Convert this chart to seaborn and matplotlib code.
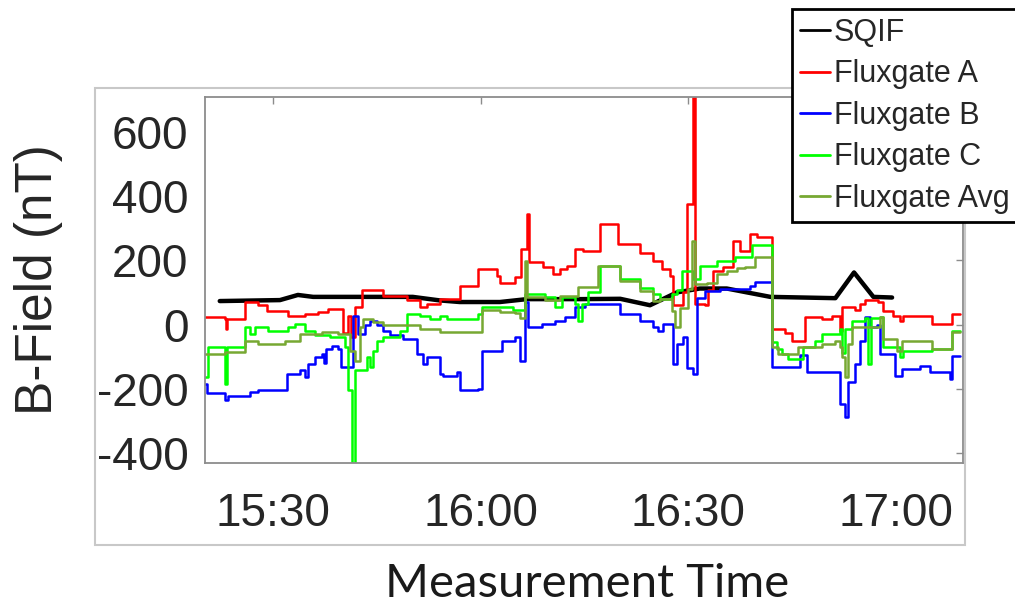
import matplotlib
matplotlib.use("Agg")
import matplotlib.pyplot as plt
import seaborn as sns
import pandas as pd
from matplotlib.ticker import FixedLocator, FuncFormatter
from matplotlib.patches import Rectangle

# ---------------- data (time in minutes after 15:00, field in nT) ----------------
t_sqif = [22.3, 31.0, 33.6, 35.8, 50.2, 54.1, 57.0, 62.8, 66.7, 74.4, 80.2, 84.5,
          88.4, 91.7, 95.6, 101.9, 111.3, 114.0, 116.8, 119.5]
v_sqif = [73, 76, 92, 86, 86, 75, 70, 70, 79, 79, 80, 60,
          100, 112, 112, 86, 82, 162, 86, 84]

t_a = [20.17, 23.06, 23.20, 23.35, 25.95, 27.83, 29.13, 32.17, 34.63, 36.51, 37.95, 40.12,
       40.84, 41.28, 41.86, 42.87, 45.90, 49.37, 51.25, 52.27, 54.14, 57.04, 59.64, 62.39,
       62.82, 64.99, 65.86, 66.72, 67.00, 69.04, 70.48, 71.49, 72.51, 73.66, 74.82, 77.28,
       79.88, 83.06, 84.94, 86.24, 87.40, 87.83, 89.28, 89.86, 90.70, 90.95, 92.46, 92.89,
       93.62, 95.06, 96.51, 97.52, 98.96, 99.98, 102.14, 104.02, 105.04, 106.92, 109.37,
       110.82, 111.98, 112.27, 114.14, 114.87, 115.59, 117.47, 118.19, 119.64, 120.65,
       121.09, 125.28, 128.17, 129.32]
v_a = [23, 18, -13, 18, 69, 62, 43, 28, 33, 38, 48, -25,
       25, -39, 54, 106, 88, 75, 54, 64, 80, 121, 173, 152,
       128, 147, 235, 344, 194, 178, 158, 173, 183, 235, 230, 313,
       250, 224, 198, 172, 150, 60, 100, 374, 760, 64, 60, 106,
       168, 178, 261, 230, 282, 272, -13, -25, -50, 23, 18,
       25, -20, 54, 44, 64, 75, 70, 43, 28, 12,
       28, 2, 33, 33]

t_b = [20.17, 20.46, 23.06, 23.49, 26.67, 27.83, 32.02, 33.90, 34.63, 35.06, 36.07, 37.08,
       37.37, 37.66, 38.53, 39.40, 39.83, 41.57, 42.29, 43.30, 44.02, 45.04, 45.90, 46.92,
       48.80, 50.82, 51.69, 52.27, 54.14, 54.58, 56.60, 57.04, 59.64, 60.22, 63.11, 64.99,
       65.71, 66.43, 66.87, 68.89, 70.77, 72.22, 73.66, 75.11, 77.28, 80.17, 83.06, 84.94,
       85.66, 86.39, 87.83, 88.41, 89.28, 89.86, 90.72, 91.30, 92.46, 94.63, 98.96, 99.69,
       102.14, 106.19, 107.21, 111.98, 112.70, 113.14, 114.14, 114.87, 115.59, 116.31,
       117.33, 117.76, 119.93, 120.94, 123.54, 124.99, 127.88, 128.17, 129.32]
v_b = [-184, -212, -235, -221, -211, -205, -153, -143, -164, -123, -102, -92,
       -120, -76, -66, -75, -133, 28, -29, -3, 12, -3, -19, -34,
       -45, -91, -122, -102, -153, -159, -148, -205, -200, -81, -50, -40,
       -112, 69, -8, 2, 12, 23, 54, 64, 64, 33, 12, -8,
       -19, 2, -123, -60, -40, -134, -155, 84, 105, 110, 120, 132,
       -133, -96, -148, -247, -288, -179, -122, -50, 23, -8,
       0, -91, -159, -138, -128, -148, -169, -97, -97]

t_c = [20.17, 20.60, 23.06, 23.35, 25.95, 26.67, 27.40, 29.28, 32.17, 33.18, 34.63, 36.07,
       38.24, 40.41, 40.84, 41.42, 41.86, 43.59, 44.02, 44.46, 45.04, 45.90, 48.36, 49.37,
       51.25, 52.70, 54.14, 55.16, 58.92, 59.64, 60.22, 64.70, 66.43, 69.33, 70.77, 71.78,
       73.66, 74.10, 74.68, 75.54, 77.28, 80.17, 83.06, 84.94, 85.95, 87.69, 88.41, 89.13,
       90.72, 91.74, 94.19, 96.80, 99.25, 102.14, 102.87, 103.59, 104.46, 106.63, 108.36,
       109.37, 111.98, 112.27, 112.70, 113.72, 115.59, 116.02, 116.45, 117.76, 118.19,
       120.65, 121.09, 125.28, 128.17, 129.32]
v_c = [-164, -71, -185, -71, -8, -30, -8, -19, -8, 2, -19, -34,
       -40, -70, -205, -440, -143, -102, -133, -81, -50, -39, -19, 33,
       28, 18, 28, 18, 18, 33, 54, 44, 95, 85, 54, 85,
       64, 12, 64, 100, 183, 141, 115, 94, 79, 94, 106, 167,
       141, 182, 198, 209, 246, -55, -76, -91, -107, -70, -50,
       -29, -13, -90, -13, 12, 20, -122, 20, 23, -71,
       -102, -81, -76, -19, -19]

t_avg = [20.17, 23.06, 25.95, 27.83, 31.73, 33.90, 37.08, 39.40, 41.13, 41.86, 42.58, 43.01,
         44.46, 45.90, 51.25, 54.14, 60.22, 62.82, 64.99, 65.71, 66.43, 66.72, 69.33, 71.49,
         74.10, 76.99, 80.17, 83.06, 84.94, 85.95, 87.69, 88.12, 88.84, 90.00, 90.58, 91.01,
         92.75, 94.19, 95.64, 97.09, 98.24, 99.69, 102.14, 103.01, 105.90, 109.37, 111.25,
         111.98, 112.27, 112.70, 113.14, 113.72, 116.60, 117.76, 118.19, 120.22, 120.94,
         125.28, 128.17, 129.32]
v_avg = [-92, -85, -50, -60, -50, -29, -24, -29, -81, -112, -8, 18,
         7, -3, -13, -24, 45, 40, 35, 20, 199, 85, 75, 90,
         116, 183, 136, 105, 74, 80, 43, -9, 50, 110, 260, 126,
         130, 156, 165, 176, 178, 209, -70, -91, -70, -60, -50,
         -70, -102, -164, -60, -8, -8, 23, -45, -81, -50,
         -76, -24, -24]

x_ticks = [30, 60, 90, 120]
x_tick_labels = ["15:30", "16:00", "16:30", "17:00"]
y_ticks = [-400, -200, 0, 200, 400, 600]

# ---------------- style ----------------
sns.set_style("white")
plt.rcParams["font.family"] = ["Liberation Sans", "DejaVu Sans"]
plt.rcParams["axes.unicode_minus"] = False

fig = plt.figure(figsize=(10.15, 6.07), dpi=100)
ax = fig.add_axes([0.2020, 0.2372, 0.7468, 0.6030])

series = [
    ("SQIF", t_sqif, v_sqif, "#000000", 3.2, "default"),
    ("Fluxgate A", t_a, v_a, "#ff0000", 1.8, "steps-post"),
    ("Fluxgate B", t_b, v_b, "#0000ff", 1.8, "steps-post"),
    ("Fluxgate C", t_c, v_c, "#00ff00", 1.8, "steps-post"),
    ("Fluxgate Avg", t_avg, v_avg, "#77a832", 1.8, "steps-post"),
]
for name, t, v, col, lw, ds in series:
    df = pd.DataFrame({"t": t, "v": v})
    sns.lineplot(data=df, x="t", y="v", ax=ax, color=col, lw=lw, drawstyle=ds,
                 estimator=None, sort=False, label=name, legend=False)

ax.set_xlim(20.17, 129.76)
ax.set_ylim(-431, 708)
ax.xaxis.set_major_locator(FixedLocator(x_ticks))
ax.xaxis.set_major_formatter(FuncFormatter(
    lambda m, p: x_tick_labels[x_ticks.index(int(round(m)))] if int(round(m)) in x_ticks else ""))
ax.yaxis.set_major_locator(FixedLocator(y_ticks))

for s in ax.spines.values():
    s.set_color("#8c8c8c")
    s.set_linewidth(1.3)
ax.tick_params(axis="both", which="major", direction="in", length=5, width=1,
               color="#8c8c8c", labelsize=33, labelcolor="#262626",
               top=True, right=True)
ax.tick_params(axis="y", pad=12)
ax.tick_params(axis="x", pad=21)
ax.grid(False)

ax.set_ylabel("B-Field (nT)", fontsize=37, color="#262626")
ax.yaxis.label.set_va("center")
ax.yaxis.set_label_coords(-0.2203, 0.5)
ax.set_xlabel("Measurement Time", fontsize=34, color="#1a1a1a", family=["Lato", "DejaVu Sans"])
ax.xaxis.label.set_va("center")
ax.xaxis.set_label_coords(0.504, -0.33)

# outer light frame of the figure panel
fig.patches.append(Rectangle((95 / 1015, 1 - 545 / 607), 870 / 1015, 457 / 607,
                             transform=fig.transFigure, fill=False,
                             ec="#c8c8c8", lw=1.5, zorder=1))

handles, labels = ax.get_legend_handles_labels()
leg = fig.legend(handles, labels, loc="upper left",
                 bbox_to_anchor=(792 / 1015, 1 - 9 / 607), bbox_transform=fig.transFigure,
                 frameon=True, fancybox=False, edgecolor="black", framealpha=1,
                 fontsize=22, handlelength=1.0, handletextpad=0.12, labelspacing=0.38,
                 borderpad=0.25, borderaxespad=0, title=" ", title_fontsize=1)
leg._legend_box.sep = 0
leg.get_frame().set_linewidth(2)
for line in leg.get_lines():
    line.set_linewidth(2)
for txt in leg.get_texts():
    txt.set_color("#262626")
leg.set_zorder(10)

fig.savefig("out.png", dpi=100, facecolor="white")
